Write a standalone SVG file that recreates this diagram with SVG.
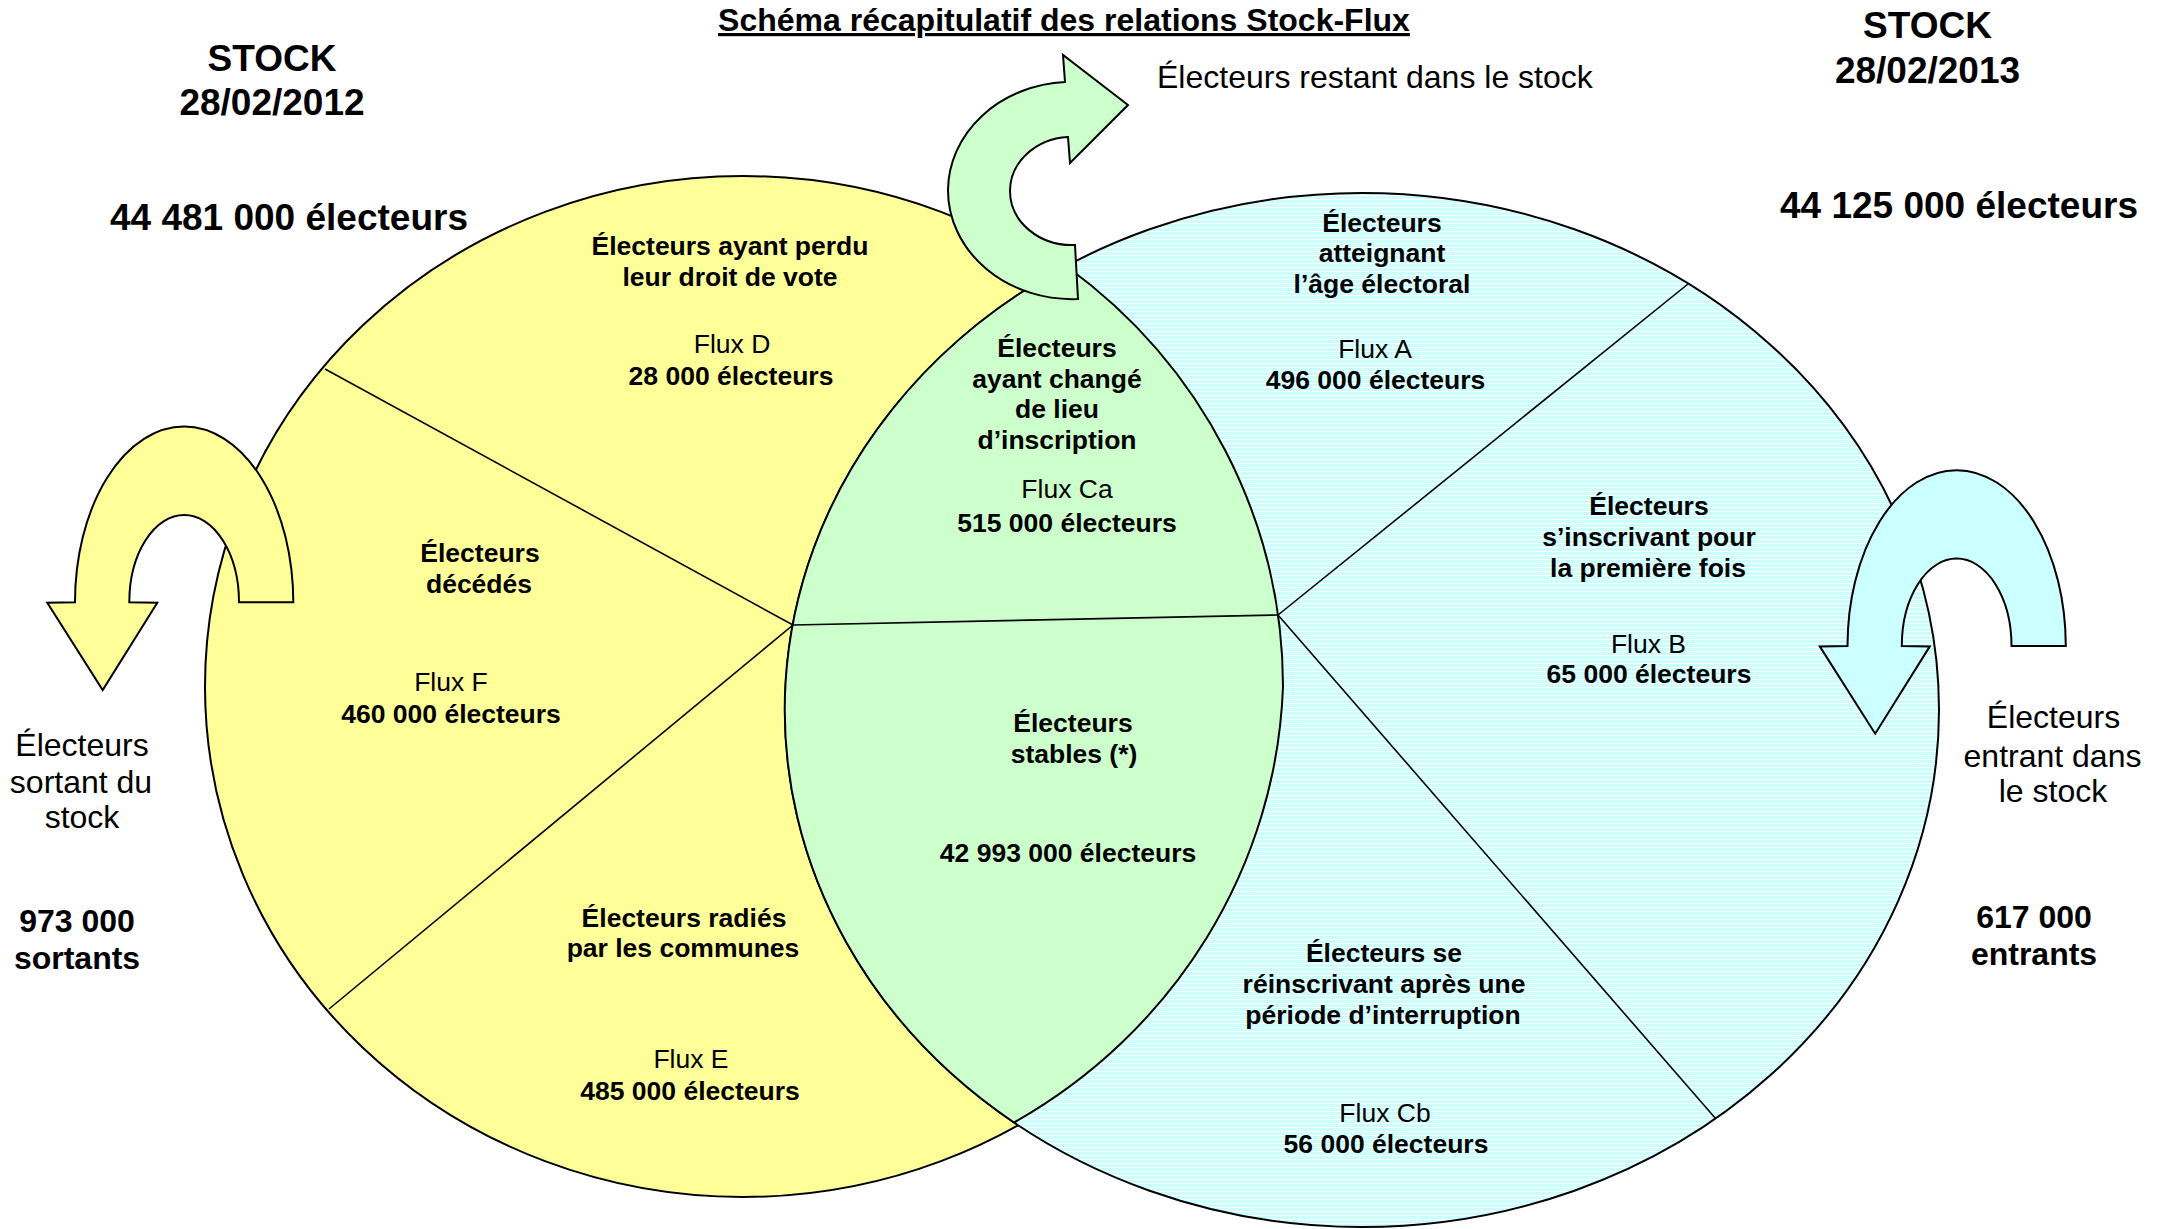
<svg xmlns="http://www.w3.org/2000/svg" xmlns:xlink="http://www.w3.org/1999/xlink" width="2158" height="1229" viewBox="0 0 2158 1229">
<style>
  text { font-family: "Liberation Sans", Arial, sans-serif; fill: #000; }
  .nb { font-size: 26.5px; font-weight: bold; text-anchor: middle; }
  .nr { font-size: 26.5px; font-weight: normal; text-anchor: middle; }
  .ob { font-size: 32px; font-weight: bold; text-anchor: middle; }
  .or { font-size: 32px; font-weight: normal; text-anchor: middle; }
  .st { font-size: 37px; font-weight: bold; text-anchor: middle; }
  .title { font-size: 32px; font-weight: bold; text-anchor: middle; text-decoration: underline; }
  .outline { stroke: #000; stroke-width: 2; }
  .div { stroke: #000; stroke-width: 1.6; fill: none; }
  .arrow { stroke: #000; stroke-width: 2; stroke-linejoin: miter; }
</style>
<defs>
  <pattern id="hatch" width="8" height="4" patternUnits="userSpaceOnUse">
    <rect width="8" height="4" fill="#CCFFFF"/>
    <rect y="3" width="8" height="1.1" fill="#FFFFFF"/>
  </pattern>
  <path id="uturn" d="M 293.3,602.3 A 109 175.6 0 0 0 75,602.3 L 47.3,602.7 L 102.7,690 L 157.3,602.7 L 129.3,602.3 A 54.8 87.3 0 0 1 239,602.3 Z"/>
</defs>

<rect width="2158" height="1229" fill="#FFFFFF"/>

<g id="stock-2012">
  <ellipse cx="743" cy="686.5" rx="538" ry="510.5" fill="#FFFF99" class="outline"/>
</g>
<g id="stock-2013">
  <ellipse cx="1362" cy="710" rx="577" ry="517" fill="url(#hatch)" class="outline"/>
</g>
<g id="overlap">
  <path d="M 1066,266 A 577 517 0 0 0 1014,1122.5 A 540 525 0 0 0 1283,686.5 A 540 525 0 0 0 1066,266 Z" fill="#CCFFCC" class="outline"/>
</g>

<g id="dividers">
  <line class="div" x1="325" y1="369" x2="793" y2="625"/>
  <line class="div" x1="793" y1="625" x2="329" y2="1009"/>
  <line class="div" x1="793" y1="625" x2="1278" y2="615" stroke-width="2.4"/>
  <line class="div" x1="1278" y1="615" x2="1688" y2="284"/>
  <line class="div" x1="1278" y1="615" x2="1716" y2="1119"/>
</g>

<g id="connectors">
  <path id="arrow-restant" class="arrow" fill="#CCFFCC" d="M 1065,82 A 124 109 0 0 0 948,190 A 124 109 0 0 0 1078,299 L 1075,245 A 62 54 0 0 1 1010,191 A 62 54 0 0 1 1068,137 L 1070,163 L 1128,105 L 1063,55 Z"/>
  <use id="arrow-sortant" xlink:href="#uturn" href="#uturn" class="arrow" fill="#FFFF99"/>
  <use id="arrow-entrant" xlink:href="#uturn" href="#uturn" class="arrow" fill="#CCFFFF" transform="translate(1772.5,43.7)"/>
</g>

<g id="title">
  <text class="title" x="1064" y="31">Schéma récapitulatif des relations Stock-Flux</text>
</g>

<g id="label-stock-2012">
  <text class="st" x="272" y="71">STOCK</text>
  <text class="st" x="272" y="115">28/02/2012</text>
  <text class="st" x="289" y="230">44 481 000 électeurs</text>
</g>
<g id="label-stock-2013">
  <text class="st" x="1927.5" y="38">STOCK</text>
  <text class="st" x="1927.5" y="83">28/02/2013</text>
  <text class="st" x="1959" y="218">44 125 000 électeurs</text>
</g>
<g id="label-restant">
  <text class="or" x="1157" y="88" style="text-anchor:start">Électeurs restant dans le stock</text>
</g>

<g id="flux-D">
  <text class="nb" x="730" y="255">Électeurs ayant perdu</text>
  <text class="nb" x="730" y="286">leur droit de vote</text>
  <text class="nr" x="732" y="353">Flux D</text>
  <text class="nb" x="731" y="385">28 000 électeurs</text>
</g>
<g id="flux-F">
  <text class="nb" x="480" y="562">Électeurs</text>
  <text class="nb" x="479" y="593">décédés</text>
  <text class="nr" x="451" y="691">Flux F</text>
  <text class="nb" x="451" y="723">460 000 électeurs</text>
</g>
<g id="flux-E">
  <text class="nb" x="684" y="927">Électeurs radiés</text>
  <text class="nb" x="683" y="957">par les communes</text>
  <text class="nr" x="691" y="1068">Flux E</text>
  <text class="nb" x="690" y="1100">485 000 électeurs</text>
</g>
<g id="sortants">
  <text class="or" x="82" y="756">Électeurs</text>
  <text class="or" x="81" y="793">sortant du</text>
  <text class="or" x="82" y="828">stock</text>
  <text class="ob" x="77" y="932">973 000</text>
  <text class="ob" x="77" y="969">sortants</text>
</g>
<g id="flux-Ca">
  <text class="nb" x="1057" y="357">Électeurs</text>
  <text class="nb" x="1057" y="388">ayant changé</text>
  <text class="nb" x="1057" y="418">de lieu</text>
  <text class="nb" x="1057" y="449">d’inscription</text>
  <text class="nr" x="1067" y="498">Flux Ca</text>
  <text class="nb" x="1067" y="532">515 000 électeurs</text>
</g>
<g id="stables">
  <text class="nb" x="1073" y="732">Électeurs</text>
  <text class="nb" x="1074" y="763">stables (*)</text>
  <text class="nb" x="1068" y="862">42 993 000 électeurs</text>
</g>
<g id="flux-A">
  <text class="nb" x="1382" y="232">Électeurs</text>
  <text class="nb" x="1382" y="262">atteignant</text>
  <text class="nb" x="1382" y="293">l’âge électoral</text>
  <text class="nr" x="1375" y="358">Flux A</text>
  <text class="nb" x="1375.5" y="389">496 000 électeurs</text>
</g>
<g id="flux-B">
  <text class="nb" x="1649" y="515">Électeurs</text>
  <text class="nb" x="1649" y="546">s’inscrivant pour</text>
  <text class="nb" x="1648" y="577">la première fois</text>
  <text class="nr" x="1648.5" y="653">Flux B</text>
  <text class="nb" x="1649" y="683">65 000 électeurs</text>
</g>
<g id="flux-Cb">
  <text class="nb" x="1384" y="962">Électeurs se</text>
  <text class="nb" x="1384" y="993">réinscrivant après une</text>
  <text class="nb" x="1383" y="1024">période d’interruption</text>
  <text class="nr" x="1385" y="1122">Flux Cb</text>
  <text class="nb" x="1386" y="1153">56 000 électeurs</text>
</g>
<g id="entrants">
  <text class="or" x="2053.5" y="728">Électeurs</text>
  <text class="or" x="2052.5" y="767">entrant dans</text>
  <text class="or" x="2053" y="802">le stock</text>
  <text class="ob" x="2034" y="928">617 000</text>
  <text class="ob" x="2034" y="965">entrants</text>
</g>
</svg>
